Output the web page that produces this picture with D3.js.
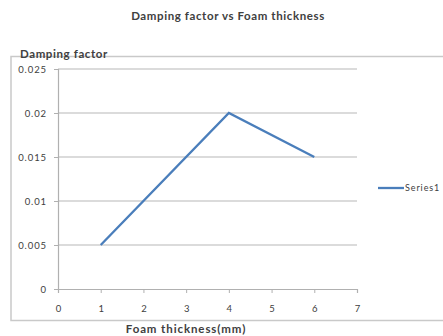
<!DOCTYPE html>
<html>
<head>
<meta charset="utf-8">
<script src="https://cdn.jsdelivr.net/npm/d3@7"></script>
<style>
  html, body { margin: 0; padding: 0; background: #fff; }
  svg { display: block; }
  text { font-family: Lato, "Open Sans", sans-serif; fill: #404040; }
</style>
</head>
<body>
<svg id="chart" width="443" height="336"></svg>
<script>
// Foam thickness (mm) against measured damping factor
const thickness = [1, 4, 6];
const damping = [0.005, 0.02, 0.015];
const xTicks = [0, 1, 2, 3, 4, 5, 6, 7];
const yTicks = [0, 0.005, 0.01, 0.015, 0.02, 0.025];
const seriesName = "Series1";

const svg = d3.select("#chart");
const plot = { left: 58, right: 357, top: 69, bottom: 289 };
const font = "Lato, 'Open Sans', sans-serif";

const x = d3.scaleLinear().domain([0, 7]).range([plot.left, plot.right]);
const y = d3.scaleLinear().domain([0, 0.025]).range([plot.bottom, plot.top]);

// chart area frame
svg.append("rect")
  .attr("x", 11).attr("y", 56.5)
  .attr("width", 450).attr("height", 264)
  .attr("fill", "none").attr("stroke", "#c9c9c9").attr("stroke-width", 1.5);

// horizontal gridlines
svg.append("g")
  .selectAll("line")
  .data(yTicks.filter(d => d > 0))
  .join("line")
  .attr("x1", plot.left).attr("x2", plot.right)
  .attr("y1", d => y(d)).attr("y2", d => y(d))
  .attr("stroke", "#b8b8b8").attr("stroke-width", 1.2);

// y axis
const yAxis = svg.append("g")
  .attr("transform", `translate(${plot.left},0)`)
  .call(d3.axisLeft(y).tickValues(yTicks).tickSize(4).tickPadding(7)
    .tickFormat(d => d === 0 ? "0" : String(+d.toFixed(3))));
yAxis.select(".domain").attr("stroke", "#b0b0b0").attr("stroke-width", 1.2);
yAxis.selectAll(".tick line").attr("stroke", "#b0b0b0");
yAxis.selectAll(".tick text").attr("font-size", 9.5).attr("fill", "#404040")
  .attr("letter-spacing", 0.9).attr("font-family", font);

// x axis
const xAxis = svg.append("g")
  .attr("transform", `translate(0,${plot.bottom})`)
  .call(d3.axisBottom(x).tickValues(xTicks).tickSize(4).tickPadding(12)
    .tickFormat(d3.format("d")));
xAxis.select(".domain").attr("stroke", "#b0b0b0").attr("stroke-width", 1.2);
xAxis.selectAll(".tick line").attr("stroke", "#b0b0b0");
xAxis.selectAll(".tick text").attr("font-size", 9.5).attr("fill", "#404040")
  .attr("font-family", font);

// data line
const line = d3.line().x((d, i) => x(thickness[i])).y(d => y(d));
svg.append("path")
  .datum(damping)
  .attr("d", line)
  .attr("fill", "none")
  .attr("stroke", "#4a7ebb")
  .attr("stroke-width", 2.3)
  .attr("stroke-linejoin", "miter");

// legend
svg.append("line")
  .attr("x1", 378).attr("x2", 404).attr("y1", 188).attr("y2", 188)
  .attr("stroke", "#4a7ebb").attr("stroke-width", 2.3);
svg.append("text")
  .attr("x", 405).attr("y", 191)
  .attr("font-size", 9).attr("letter-spacing", 0.9)
  .text(seriesName);

// titles
svg.append("text")
  .attr("x", 228).attr("y", 20)
  .attr("text-anchor", "middle")
  .attr("font-size", 11.5).attr("font-weight", "bold")
  .attr("letter-spacing", 0.6)
  .attr("fill", "#333")
  .text("Damping factor vs Foam thickness");

svg.append("text")
  .attr("x", 20).attr("y", 58)
  .attr("font-size", 11.5).attr("font-weight", "bold")
  .attr("letter-spacing", 0.6)
  .attr("fill", "#333")
  .text("Damping factor");

svg.append("text")
  .attr("x", 186).attr("y", 333)
  .attr("text-anchor", "middle")
  .attr("font-size", 11.5).attr("font-weight", "bold")
  .attr("letter-spacing", 0.9)
  .attr("fill", "#333")
  .text("Foam thickness(mm)");
</script>
</body>
</html>
